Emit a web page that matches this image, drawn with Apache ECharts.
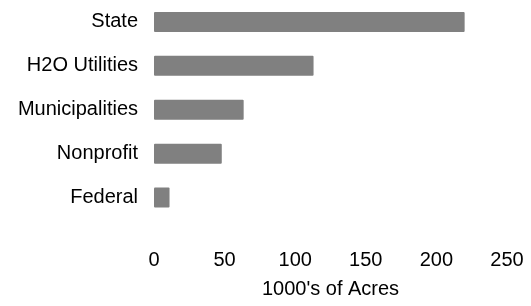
<!DOCTYPE html>
<html>
<head>
<meta charset="utf-8">
<script src="https://cdn.jsdelivr.net/npm/echarts@6/dist/echarts.min.js"></script>
<style>html,body{margin:0;padding:0;background:#fff}#c{width:531px;height:306px}</style>
</head>
<body>
<div id="c"></div>
<script>
const categories = ["State", "H2O Utilities", "Municipalities", "Nonprofit", "Federal"];
const values = [220, 113, 63.5, 48, 11];
const xTicks = [0, 50, 100, 150, 200, 250];
const xAxisTitle = "1000's of Acres";

const chart = echarts.init(document.getElementById('c'), null, {renderer: 'canvas'});
chart.setOption({
  animation: false,
  grid: {left: 154, right: 24, top: -5.5, height: 225, containLabel: false},
  xAxis: {
    type: 'value', min: xTicks[0], max: xTicks[xTicks.length - 1], interval: 50,
    axisLine: {show: false}, axisTick: {show: false}, splitLine: {show: false},
    axisLabel: {margin: 31, fontFamily: 'Liberation Sans', fontSize: 20, color: '#000'},
    name: xAxisTitle, nameLocation: 'middle', nameGap: 60,
    nameTextStyle: {fontFamily: 'Liberation Sans', fontSize: 20, color: '#000'}
  },
  yAxis: {
    type: 'category', data: categories, inverse: true,
    axisLine: {show: false}, axisTick: {show: false}, splitLine: {show: false},
    axisLabel: {margin: 16, fontFamily: 'Liberation Sans', fontSize: 20, color: '#000', padding: [10, 0, 0, 0]}
  },
  series: [{
    type: 'bar', data: values, barWidth: 20,
    itemStyle: {color: '#808080', borderRadius: 1}
  }]
});
</script>
</body>
</html>
